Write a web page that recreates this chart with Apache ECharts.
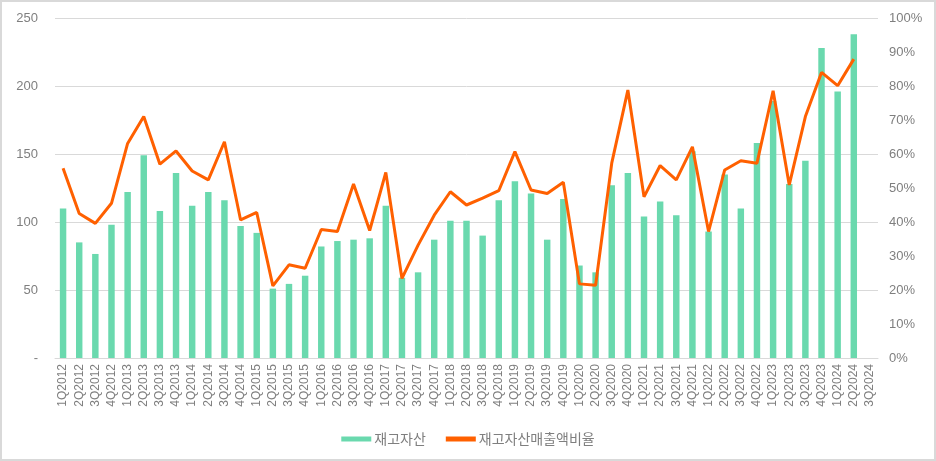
<!DOCTYPE html>
<html>
<head>
<meta charset="utf-8">
<script src="https://cdn.jsdelivr.net/npm/echarts@6/dist/echarts.min.js"></script>
<style>
html,body{margin:0;padding:0;background:#fff;}
#wrap{position:absolute;left:0;top:0;width:932px;height:457px;border:2px solid #d9d9d9;}
#chart{width:932px;height:457px;}
</style>
</head>
<body>
<div id="wrap"><div id="chart"></div></div>
<script>
const categories = ['1Q2012','2Q2012','3Q2012','4Q2012','1Q2013','2Q2013','3Q2013','4Q2013','1Q2014','2Q2014','3Q2014','4Q2014','1Q2015','2Q2015','3Q2015','4Q2015','1Q2016','2Q2016','3Q2016','4Q2016','1Q2017','2Q2017','3Q2017','4Q2017','1Q2018','2Q2018','3Q2018','4Q2018','1Q2019','2Q2019','3Q2019','4Q2019','1Q2020','2Q2020','3Q2020','4Q2020','1Q2021','2Q2021','3Q2021','4Q2021','1Q2022','2Q2022','3Q2022','4Q2022','1Q2023','2Q2023','3Q2023','4Q2023','1Q2024','2Q2024','3Q2024'];
const inventory = [110,85,76.5,98,122,149,108,136,112,122,116,97,92,51,54.5,60.5,82,86,87,88,112,59,63,87,101,101,90,116,130,121,87,117,68,63,127,136,104,115,105,152,93,135,110,158,189,128,145,228,196,238,null];
const inventoryRatio = [55.8,42.5,39.6,45.5,63.1,71,57,60.9,55,52.4,63.6,40.6,42.8,21.2,27.4,26.4,37.8,37.2,51.2,37.5,54.6,23.4,33.2,42,48.9,45,47,49.2,60.7,49.4,48.4,51.7,21.8,21.4,57.3,78.8,47.4,56.6,52.4,62.1,37.2,55.3,58,57.3,78.6,50.9,71,84,80.1,87.9,null];
const leftTicks = {min:0, max:250, interval:50};
const rightTicks = {min:0, max:100, interval:10};

const chart = echarts.init(document.getElementById('chart'), null, {renderer:'canvas'});
const gray = '#7f7f7f';
const font = 'Noto Sans CJK KR, Noto Sans, sans-serif';
chart.setOption({
  animation:false,
  grid:{left:53, right:56, top:16, bottom:101},
  legend:{
    bottom:8, left:'center', itemGap:20,
    textStyle:{color:gray, fontSize:14, fontFamily:font, padding:[0,0,0,-2]},
    data:[
      {name:'재고자산', icon:'rect', itemStyle:{color:'#6AD9AE'}},
      {name:'재고자산매출액비율', icon:'rect', itemStyle:{color:'#FF6000'}}
    ],
    itemWidth:30, itemHeight:5
  },
  xAxis:{
    type:'category', data:categories, boundaryGap:true,
    axisLine:{lineStyle:{color:'#d9d9d9', width:1}},
    axisTick:{show:false},
    axisLabel:{rotate:90, interval:0, color:gray, fontSize:12, fontFamily:'Liberation Sans, DejaVu Sans, sans-serif', margin:6}
  },
  yAxis:[
    {type:'value', min:leftTicks.min, max:leftTicks.max, interval:leftTicks.interval,
     axisLine:{show:false}, axisTick:{show:false},
     splitLine:{lineStyle:{color:'#d9d9d9', width:1}},
     axisLabel:{color:gray, fontSize:13, fontFamily:'Liberation Sans, sans-serif', margin:17,
       formatter:v => v===0 ? '-' : String(v)}},
    {type:'value', min:rightTicks.min, max:rightTicks.max, interval:rightTicks.interval,
     axisLine:{show:false}, axisTick:{show:false}, splitLine:{show:false},
     axisLabel:{color:gray, fontSize:13, fontFamily:'Liberation Sans, sans-serif', margin:11,
       formatter:v => v + '%'}}
  ],
  series:[
    {name:'재고자산', type:'bar', data:inventory, yAxisIndex:0, barWidth:'40%',
     itemStyle:{color:'#6AD9AE'}},
    {name:'재고자산매출액비율', type:'line', data:inventoryRatio, yAxisIndex:1,
     symbol:'none', lineStyle:{color:'#FF6000', width:3}, itemStyle:{color:'#FF6000'}}
  ]
});
</script>
</body>
</html>
